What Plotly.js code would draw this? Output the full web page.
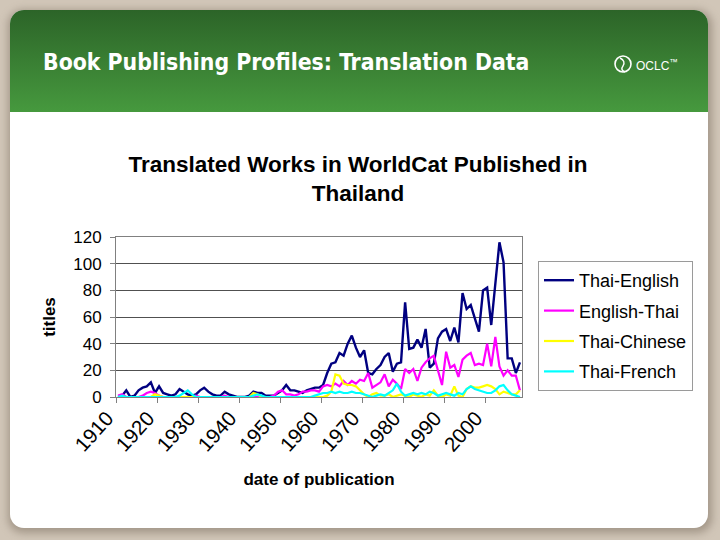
<!DOCTYPE html>
<html><head><meta charset="utf-8">
<script src="https://cdn.plot.ly/plotly-3.0.1.min.js"></script>
<style>html,body{margin:0;padding:0;background:#cfc4b6;} #chart{width:720px;height:540px;}</style>
</head><body><div id="chart"></div>
<script>
// ---- data ----
const years = [1910,1911,1912,1913,1914,1915,1916,1917,1918,1919,
1920,1921,1922,1923,1924,1925,1926,1927,1928,1929,
1930,1931,1932,1933,1934,1935,1936,1937,1938,1939,
1940,1941,1942,1943,1944,1945,1946,1947,1948,1949,
1950,1951,1952,1953,1954,1955,1956,1957,1958,1959,
1960,1961,1962,1963,1964,1965,1966,1967,1968,1969,
1970,1971,1972,1973,1974,1975,1976,1977,1978,1979,
1980,1981,1982,1983,1984,1985,1986,1987,1988,1989,
1990,1991,1992,1993,1994,1995,1996,1997,1998,1999,
2000,2001,2002,2003,2004,2005,2006,2007,2008];
const thaiEnglish = [0,1,5,0,1,5,7,8,11,3,
8,3,2,1,2,6,4,2,1,2,
5,7,4,2,1,1,4,2,1,0,
0,0,1,4,3,3,1,1,1,3,
5,9,5,5,4,3,5,6,7,7,
9,18,25,26,33,31,40,46,37,30,
35,18,17,21,24,30,33,19,25,26,
71,36,37,43,37,51,22,25,44,49,
51,42,52,41,78,66,69,59,49,80,
82,54,85,116,101,29,29,18,26];
const englishThai = [1,2,0,0,0,0,1,3,4,3,
1,0,0,0,0,0,0,0,0,1,
0,0,0,0,0,0,1,0,0,0,
0,0,0,0,0,0,0,0,1,4,
5,2,2,1,2,4,4,5,5,4,
8,9,8,10,8,12,9,12,10,13,
12,18,7,9,11,17,8,13,10,6,
21,18,21,12,22,26,29,31,20,9,
34,22,24,15,28,31,33,24,25,24,
40,23,45,23,16,20,16,16,5];
const thaiChinese = [0,0,0,0,0,0,0,0,0,2,
1,0,0,0,0,0,0,0,0,0,
0,0,0,0,0,0,0,0,0,0,
0,0,0,3,2,0,0,0,0,0,
0,0,0,0,0,0,0,0,0,0,
0,1,4,17,16,10,9,9,8,5,
2,0,2,3,1,1,2,0,1,2,
1,0,2,1,0,2,1,5,1,0,
2,1,8,1,0,6,8,7,7,8,
9,8,6,2,4,3,2,2,5];
const thaiFrench = [0,1,0,0,0,0,0,0,0,0,
0,0,0,0,0,1,3,5,2,0,
0,0,0,0,0,0,0,0,0,0,
0,0,0,1,2,1,0,0,0,0,
0,0,0,0,0,0,0,0,1,2,
3,3,4,3,4,3,3,4,3,3,
2,1,0,1,2,1,3,5,10,4,
1,2,3,2,3,2,4,3,1,2,
3,2,1,3,2,6,8,6,5,4,
3,3,5,8,9,5,2,1,0];
const seriesNames = ['Thai-English','English-Thai','Thai-Chinese','Thai-French'];
const seriesColors = ['#000080','#ff00ff','#ffff00','#00ffff'];
const tickLabels = ['1910','1920','1930','1940','1950','1960','1970','1980','1990','2000'];
const yTicks = [0,20,40,60,80,100,120];

// ---- layout helpers (pixel -> paper) ----
const L=116, R=522, T=237, B=397;
const px = x => (x-L)/(R-L);
const py = y => (B-y)/(B-T);

const svg = `<svg xmlns="http://www.w3.org/2000/svg" width="720" height="540" viewBox="0 0 720 540">
<defs><linearGradient id="g" x1="0" y1="0" x2="0" y2="1"><stop offset="0" stop-color="#2c6428"/><stop offset="1" stop-color="#46993e"/></linearGradient>
<filter id="s" x="-5%" y="-5%" width="110%" height="110%"><feGaussianBlur stdDeviation="4"/></filter>
<clipPath id="c"><rect x="10" y="10" width="698" height="518" rx="14"/></clipPath></defs>
<rect width="720" height="540" fill="#d1c6b8"/>
<rect x="8" y="10" width="704" height="523" rx="15" fill="#7d6f60" opacity="0.55" filter="url(#s)"/>
<g clip-path="url(#c)"><rect x="10" y="10" width="698" height="518" fill="#ffffff"/><rect x="10" y="10" width="698" height="102" fill="url(#g)"/></g>
<circle cx="623" cy="64" r="8" fill="none" stroke="#ffffff" stroke-width="1.6"/>
<path d="M620 58 q6 3 3 8 q-3 4 2 6" fill="none" stroke="#ffffff" stroke-width="1.4"/>
</svg>`;

const traces = [thaiEnglish, englishThai, thaiChinese, thaiFrench].map((vals,i)=>({
  type:'scatter', mode:'lines', x: years, y: vals, name: seriesNames[i],
  line:{color: seriesColors[i], width: i===0 ? 2.4 : 2.2},
  legendgroup: 'g'+i
}));

const layout = {
  width:720, height:540,
  margin:{l:L, r:720-R, t:T, b:540-B, pad:0},
  paper_bgcolor:'#d1c6b8',
  plot_bgcolor:'#c0c0c0',
  font:{family:'Liberation Sans, Arial, sans-serif', color:'#000000', size:17},
  showlegend:true,
  title:{text:'<b>Translated Works in WorldCat Published in<br>Thailand</b>',
    font:{size:22.5, color:'#000000', family:'Liberation Sans, Arial, sans-serif'},
    x:358/720, xanchor:'center', xref:'container', y:1-172/540, yanchor:'top', yref:'container'},
  xaxis:{
    range:[years[0]-0.5, years[years.length-1]+0.5],
    tickmode:'array',
    tickvals: tickLabels.map(t=>Number(t)-0.5),
    ticktext: tickLabels,
    tickangle:-48,
    ticks:'outside', ticklen:5, tickcolor:'#808080',
    ticklabelshift:-9, ticklabelstandoff:-5,
    showgrid:false, zeroline:false,
    showline:true, linecolor:'#808080', linewidth:1, mirror:true,
    tickfont:{size:20.5},
    title:{text:'<b>date of publication</b>', font:{size:17}, standoff:18},
    automargin:false
  },
  yaxis:{
    range:[0,120], tickmode:'array', tickvals:yTicks,
    ticks:'outside', ticklen:5, tickcolor:'#808080', ticklabelstandoff:5,
    showgrid:true, gridcolor:'#505050', gridwidth:1,
    zeroline:false, showline:true, linecolor:'#808080', linewidth:1, mirror:true,
    tickfont:{size:17},
    title:{text:'<b>titles</b>', font:{size:17}, standoff:13},
    automargin:false
  },
  legend:{x:px(538), y:py(261), xanchor:'left', yanchor:'top',
    bgcolor:'#ffffff', bordercolor:'#9a9a9a', borderwidth:1,
    font:{size:18}, tracegroupgap:4, itemwidth:30},
  images:[{source:'data:image/svg+xml;base64,'+btoa(svg), xref:'paper', yref:'paper',
    x:px(0), y:py(0), sizex:px(720)-px(0), sizey:py(0)-py(540),
    xanchor:'left', yanchor:'top', sizing:'stretch', layer:'below'}],
  annotations:[
    {text:'<b>Book Publishing Profiles: Translation Data</b>', xref:'paper', yref:'paper',
     x:px(41), y:py(62), xanchor:'left', yanchor:'middle', showarrow:false,
     font:{family:'DejaVu Sans Condensed, Open Sans, sans-serif', size:22.8, color:'#ffffff'}},
    {text:'OCLC<sup>™</sup>', xref:'paper', yref:'paper',
     x:px(634), y:py(65), xanchor:'left', yanchor:'middle', showarrow:false,
     font:{family:'Liberation Sans, Arial, sans-serif', size:12, color:'#ffffff'}}
  ]
};

Plotly.newPlot('chart', traces, layout, {staticPlot:true, displayModeBar:false});
</script>
</body></html>
